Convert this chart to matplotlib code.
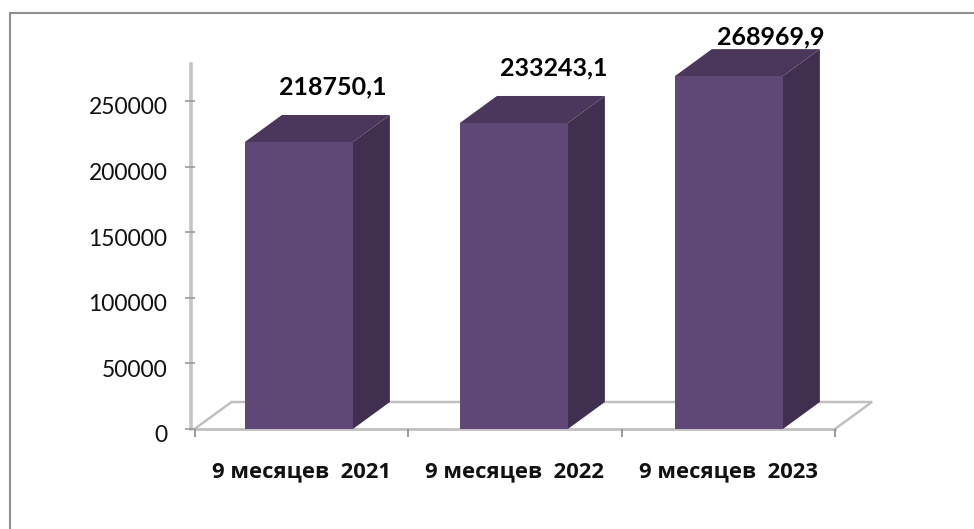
import matplotlib
matplotlib.use("Agg")
import matplotlib.pyplot as plt
from matplotlib.lines import Line2D
from matplotlib.patches import Polygon, Rectangle
from matplotlib.transforms import ScaledTranslation

plt.rcParams['font.family'] = ['Lato', 'Noto Sans', 'DejaVu Sans']

categories = ['9 месяцев  2021', '9 месяцев  2022', '9 месяцев  2023']
values = [218750.1, 233243.1, 268969.9]
value_labels = ['218750,1', '233243,1', '268969,9']
y_ticks = [0, 50000, 100000, 150000, 200000, 250000]

W, H = 974, 529
fig = plt.figure(figsize=(W / 100, H / 100), dpi=100, facecolor='white')
BORDER = '#8f8f8f'
fig.add_artist(Line2D([10 / W, 10 / W, 1], [0, 1 - 13 / H, 1 - 13 / H],
                      transform=fig.transFigure, color=BORDER, lw=1.5,
                      solid_joinstyle='miter'))

# plot area: x 194.5..835 px, y 429 (0) .. 101 (250000)
ax = fig.add_axes([194.5 / W, 1 - 429 / H, (835 - 194.5) / W, 328 / H * 280000 / 250000])
ax.set_xlim(0, 3)
ax.set_ylim(0, 280000)
ax.patch.set_visible(False)
for s in ax.spines.values():
    s.set_visible(False)

DX = 37 / 213.5
DY = 27 / 328 * 250000
GRAY = '#c0c0c0'

# floor
ax.plot([0, DX, 3 + DX, 3], [0, DY, DY, 0], color=GRAY, lw=1.8, clip_on=False,
        solid_joinstyle='miter', zorder=1)
ax.plot([0, 3], [0, 0], color=GRAY, lw=2.0, clip_on=False, zorder=1)
ax.plot([-0.015, -0.015], [0, 278000], color='#c4c4c4', lw=2.6, clip_on=False, zorder=1)

# ticks
ax.set_xticks([0, 1, 2, 3])
ax.set_xticklabels([])
ax.set_yticks(y_ticks)
ax.set_yticklabels([str(v) for v in y_ticks], fontsize=16.5, color='#111111')
ax.tick_params(axis='x', length=6, width=1.2, color='#8a8a8a', direction='out')
ax.tick_params(axis='y', length=7, width=1.2, color='#9a9a9a', direction='out', pad=12.5)
shift = ScaledTranslation(0, -5 / 100, fig.dpi_scale_trans)
for t in ax.get_yticklabels():
    t.set_transform(t.get_transform() + shift)

w = 108 / 213.5
off = 0.236
step = 215 / 213.5
# label anchor in axis units from each bar, gap above the bar's top face
label_dx = [0.0, 0.03, 0.04]
label_gap_pt = [20, 20, 9]
for i, v in enumerate(values):
    x0 = i * step + off
    x1 = x0 + w
    ax.add_patch(Polygon([(x1, 0), (x1 + DX, DY), (x1 + DX, v + DY), (x1, v)],
                         fc='#402f4e', ec='none', zorder=3, clip_on=False))
    ax.add_patch(Polygon([(x0, v), (x1, v), (x1 + DX, v + DY), (x0 + DX, v + DY)],
                         fc='#4a375b', ec='none', zorder=3, clip_on=False))
    ax.add_patch(Rectangle((x0, 0), w, v, fc='#5f4876', ec='none', zorder=4, clip_on=False))
    ax.annotate(value_labels[i], (x0 + w / 2 + DX + label_dx[i], v + DY),
                xytext=(-2.5, label_gap_pt[i]),
                textcoords='offset points', ha='center', va='center',
                fontsize=18, fontweight='bold', color='black', zorder=5,
                annotation_clip=False)
    ax.annotate(categories[i], (i + 0.5, 0), xytext=(0, -31),
                textcoords='offset points', ha='center', va='center',
                fontsize=15.8, fontweight='bold', color='#111111', family='Open Sans',
                annotation_clip=False)

fig.savefig('out.png', dpi=100, facecolor='white')
